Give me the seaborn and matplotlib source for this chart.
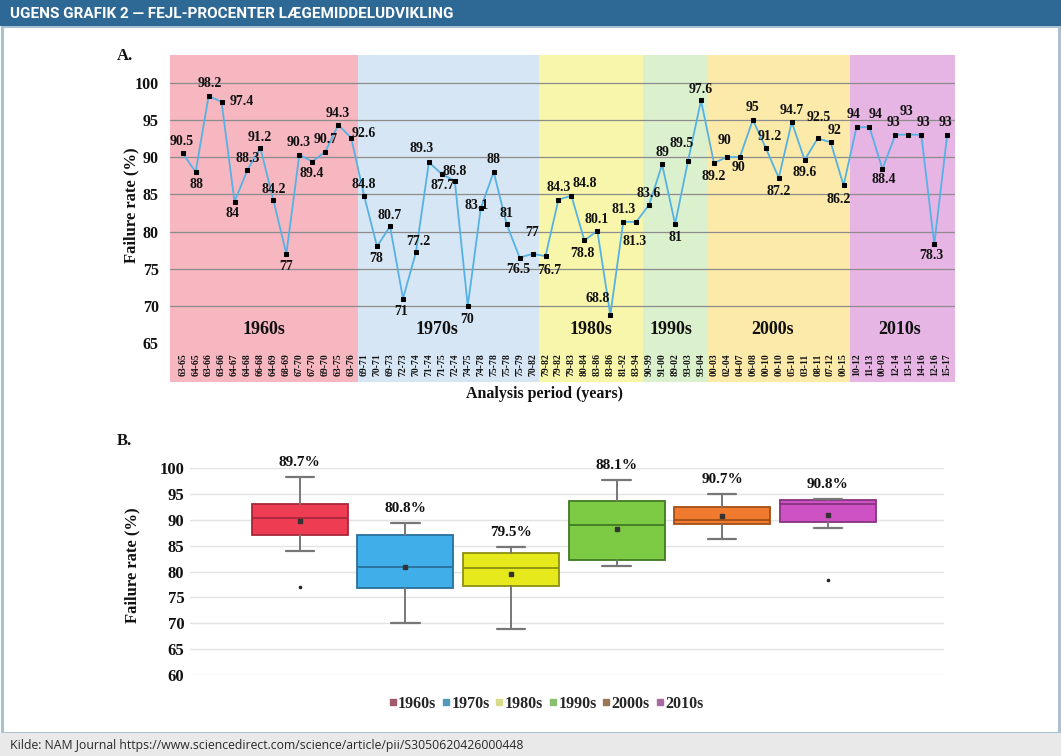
import matplotlib
matplotlib.use("Agg")
import matplotlib.pyplot as plt
import matplotlib.patches as mpatches
import matplotlib.font_manager as fm
from matplotlib.lines import Line2D
import seaborn as sns
import numpy as np
import pandas as pd

# ---- data ----
periods = ["63-65", "64-65", "63-66", "63-66", "64-67", "64-68", "66-68", "64-69", "68-69", "67-70",
           "67-70", "69-70", "63-75", "63-76",
           "69-71", "70-71", "69-73", "72-73", "70-74", "71-74", "71-75", "72-74", "74-75", "74-78",
           "75-78", "75-78", "75-79", "70-82",
           "79-82", "79-82", "79-83", "80-84", "83-86", "83-86", "81-92", "83-94",
           "90-99", "91-00", "89-02", "93-03", "93-04",
           "00-03", "02-04", "04-07", "06-08", "00-10", "00-10", "05-10", "03-11", "08-11", "07-12", "00-15",
           "10-12", "11-13", "00-03", "12-14", "13-15", "14-16", "12-16", "15-17"]
failure_rate = [90.5, 88, 98.2, 97.4, 84, 88.3, 91.2, 84.2, 77, 90.3, 89.4, 90.7, 94.3, 92.6,
                84.8, 78, 80.7, 71, 77.2, 89.3, 87.7, 86.8, 70, 83.1, 88, 81, 76.5, 77,
                76.7, 84.3, 84.8, 78.8, 80.1, 68.8, 81.3, 81.3,
                83.6, 89, 81, 89.5, 97.6,
                89.2, 90, 90, 95, 91.2, 87.2, 94.7, 89.6, 92.5, 92, 86.2,
                94, 94, 88.4, 93, 93, 93, 78.3, 93]
decades = ["1960s", "1970s", "1980s", "1990s", "2000s", "2010s"]
periods_per_decade = [14, 14, 8, 5, 11, 8]

# ---- styling ----
band_colors = ["#f6b7c1", "#d6e6f4", "#f8f6ab", "#dbf0cd", "#fbeaaa", "#e7b5e4"]
box_faces = ["#ee3d52", "#40aee8", "#e6ea1c", "#7dca45", "#f07b2e", "#cf52c4"]
box_edges = ["#a8283a", "#28709c", "#8d9010", "#3f7a22", "#a04f17", "#86337f"]
legend_colors = ["#a05a6c", "#4f9ab8", "#d8dc8a", "#86c070", "#9a7656", "#a86aa0"]
line_color = "#56b2e4"
decade_label_shift = [0, -0.85, 0, -0.3, -0.45, -0.25]

# data-label offsets in pixels (dx, dy)
label_dx = [-1, 1, 1, 20, -2, 0, -1, 0, 0, -1,
            -1, 0, 0, 13, 0, -1, 0, -2, 2, -7,
            1, 0, -1, -4, 0, 0, -1, 0, 4, 0,
            13, -2, -1, -13, 0, -2, -1, 0, 0, -6,
            0, 0, -2, -1, 0, 4, 0, 0, 0, 1,
            4, -5, -3, 6, 1, -2, -2, 2, -3, -2]
label_dy = [12, -13, 12, 0, -12, 11, 11, 11, -13, 12,
            -12, 12, 12, 4, 11, -12, 11, -13, 11, 14,
            -11, 9, -13, 3, 12, 11, -12, 21, -14, 12,
            12, -13, 11, 16, 12, -20, 11, 12, -13, 17,
            11, -13, 17, -10, 12, 12, -14, 12, -12, 21,
            12, -14, 13, 13, -11, 12, 23, 12, -11, 12]

sns.set_theme(style="white")
plt.rcParams['font.family'] = ['Liberation Serif', 'DejaVu Serif']

df = pd.DataFrame({"period": periods, "rate": failure_rate,
                   "decade": np.repeat(decades, periods_per_decade)})
df["idx"] = np.arange(len(df))

W, H = 1061, 756
fig = plt.figure(figsize=(W / 100, H / 100), dpi=100)
fig.patch.set_facecolor("white")


def fx(px):
    return px / W


def fy(py):
    return 1 - py / H


# frame, header and footer
fig.add_artist(mpatches.Rectangle((fx(1.5), fy(733)), fx(1057), fy(26) - fy(733), transform=fig.transFigure,
                                  facecolor="none", edgecolor="#a9bfd2", lw=2.2))
fig.add_artist(mpatches.Rectangle((0, fy(26)), 1, 26 / H, transform=fig.transFigure,
                                  facecolor="#2e6894", edgecolor="none"))
fig.text(fx(10), fy(13.5), "UGENS GRAFIK 2 — FEJL-PROCENTER LÆGEMIDDELUDVIKLING", color="white",
         family=["Roboto", "DejaVu Sans"], weight="bold", fontsize=11, va="center")

fig.add_artist(mpatches.Rectangle((0, 0), 1, 23 / H, transform=fig.transFigure,
                                  facecolor="#e9e9e9", edgecolor="none"))
fig.text(fx(10), fy(745), "Kilde: NAM Journal https://www.sciencedirect.com/science/article/pii/S3050620426000448",
         color="#2a2a2a", family=["Open Sans", "DejaVu Sans"], fontsize=8.8, va="center")

bold = dict(weight="bold", color="#111111")

# ---- panel A ----
axA = fig.add_axes([fx(170), fy(382), fx(955) - fx(170), fy(55) - fy(382)])
x0, x1 = -0.98, 59.6
axA.set_xlim(x0, x1)
axA.set_ylim(59.8, 103.7)

start = 0
for dec, n, col, sh in zip(decades, periods_per_decade, band_colors, decade_label_shift):
    lo = x0 if start == 0 else start - 0.5
    hi = x1 if start + n == len(df) else start + n - 0.5
    axA.axvspan(lo, hi, color=col, lw=0, zorder=0)
    axA.text((lo + hi) / 2 + sh, 66.9, dec, ha="center", va="center", fontsize=13, **bold)
    start += n

for yv in range(70, 101, 5):
    axA.axhline(yv, color="#8c8c8c", lw=0.9, zorder=1)

sns.lineplot(data=df, x="idx", y="rate", ax=axA, color=line_color, lw=1.3, marker="s",
             markersize=3, markerfacecolor="black", markeredgecolor="black", zorder=3)

for i, v in enumerate(failure_rate):
    axA.annotate(f"{v:g}", (i, v), xytext=(label_dx[i] * 0.72, label_dy[i] * 0.72),
                 textcoords="offset points", ha="center", va="center", fontsize=10, zorder=4, **bold)

for i, p in enumerate(periods):
    axA.text(i, 0.018, p, transform=axA.get_xaxis_transform(), rotation=90, ha="center", va="bottom",
             fontsize=7, **bold)

axA.set_xticks([])
axA.set_yticks(range(65, 101, 5))
axA.set_yticklabels([str(v) for v in range(65, 101, 5)], fontsize=11.5, **bold)
axA.tick_params(axis="y", length=0, pad=8)
axA.set_xlabel("")
axA.set_ylabel("")
for s in axA.spines.values():
    s.set_visible(False)

fig.text(fx(131), fy(205), "Failure rate (%)", rotation=90, ha="center", va="center", fontsize=12, **bold)
fig.text(fx(545), fy(394), "Analysis period (years)", ha="center", va="center", fontsize=11.5, **bold)
fig.text(fx(117), fy(56), "A.", ha="left", va="center", fontsize=12, **bold)

# ---- panel B ----
axB = fig.add_axes([fx(190), fy(675), fx(944) - fx(190), fy(468) - fy(675)])
axB.set_xlim(-1.04, 6.1)
axB.set_ylim(60, 100)
for yv in range(60, 101, 5):
    axB.axhline(yv, color="#e3e3e3", lw=1, zorder=0)


def box_stats(vals):
    v = np.sort(np.asarray(vals, dtype=float))
    q1, med, q3 = np.percentile(v, [25, 50, 75], method="weibull")
    iqr = q3 - q1
    lo = v[v >= q1 - 1.5 * iqr].min()
    hi = v[v <= q3 + 1.5 * iqr].max()
    return dict(med=med, q1=q1, q3=q3, whislo=lo, whishi=hi, mean=v.mean(),
                fliers=v[(v < lo) | (v > hi)])


for i, dec in enumerate(decades):
    st = box_stats(df.loc[df["decade"] == dec, "rate"])
    axB.bxp([st], positions=[i], widths=0.91, patch_artist=True, showmeans=True, showfliers=True,
            boxprops=dict(facecolor=box_faces[i], edgecolor=box_edges[i], lw=1.3),
            medianprops=dict(color=box_edges[i], lw=1.3),
            whiskerprops=dict(color="#777777", lw=1.4),
            capprops=dict(color="#777777", lw=1.6), capwidths=0.27,
            meanprops=dict(marker="s", markersize=2.2, markerfacecolor="#333333", markeredgecolor="#333333"),
            flierprops=dict(marker="o", markersize=1.6, markerfacecolor="#222222", markeredgecolor="#222222"),
            zorder=2)
    axB.annotate(f"{st['mean']:.1f}%", (i, st["whishi"]), xytext=(0, 10.5), textcoords="offset points",
                 ha="center", va="center", fontsize=11, annotation_clip=False, **bold)

axB.set_xticks([])
axB.set_yticks(range(60, 101, 5))
axB.set_yticklabels([str(v) for v in range(60, 101, 5)], fontsize=12, **bold)
axB.tick_params(axis="y", length=0, pad=4)
for s in axB.spines.values():
    s.set_visible(False)

fig.text(fx(132), fy(565), "Failure rate (%)", rotation=90, ha="center", va="center", fontsize=12, **bold)
fig.text(fx(117), fy(441), "B.", ha="left", va="center", fontsize=12, **bold)

handles = [Line2D([], [], marker="s", ls="none", markersize=4.5, markerfacecolor=c, markeredgecolor=c)
           for c in legend_colors]
fig.legend(handles, decades, loc="center", bbox_to_anchor=(fx(546), fy(704)), ncol=6, frameon=False,
           handlelength=0.5, handletextpad=0.1, columnspacing=0.35, borderpad=0,
           prop=dict(family="Liberation Serif", weight="bold", size=11.5))

fig.savefig("out.png", dpi=100)
